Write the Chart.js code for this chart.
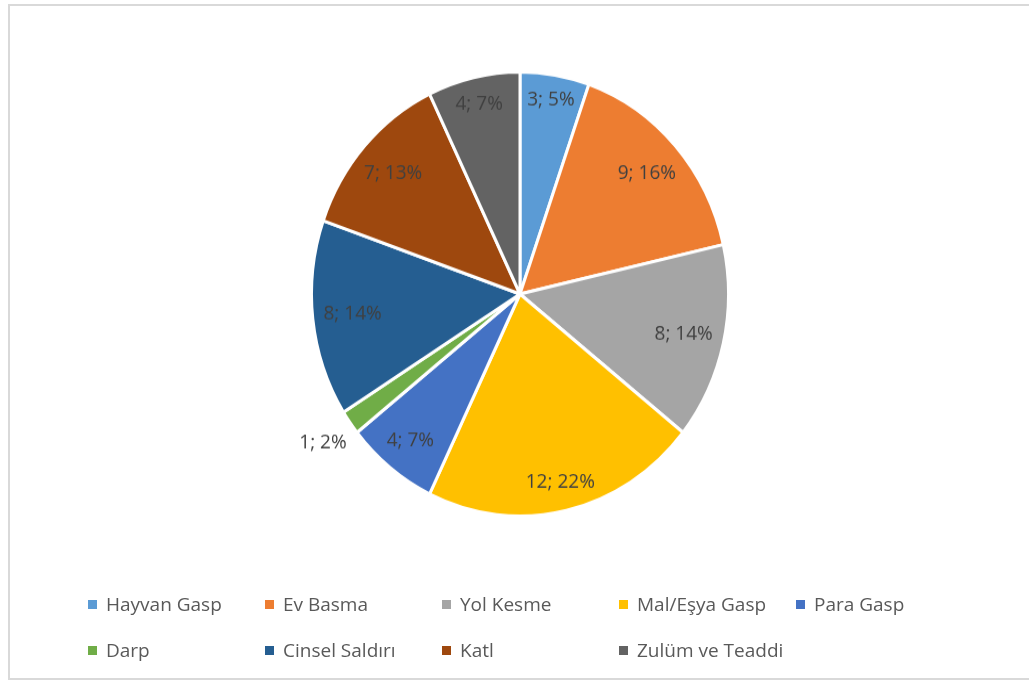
<!DOCTYPE html>
<html>
<head>
<meta charset="utf-8">
<script src="https://cdn.jsdelivr.net/npm/chart.js@4.4.0/dist/chart.umd.min.js"></script>
<style>
  html, body { margin: 0; padding: 0; background: #fff; overflow: hidden; }
  body { width: 1029px; height: 684px; position: relative; }
  #frame {
    position: absolute; left: 8px; top: 4px; width: 1030px; height: 676px;
    border: 2px solid #d9d9d9; box-sizing: border-box;
  }
  /* the reference picture is a bit taller than wide */
  #wrap {
    position: absolute; left: 220px; top: 0; width: 600px; height: 588px;
    transform: scaleY(1.065); transform-origin: 50% 294px;
  }
  #legend {
    position: absolute; left: 84px; top: 581px; width: 900px;
    display: flex; flex-wrap: wrap;
    font-family: "Open Sans", sans-serif; font-size: 19px; color: #595959;
  }
  .item { width: 177px; height: 46px; display: flex; align-items: center; }
  .box { width: 9px; height: 9px; margin: 0 9px 0 4px; }
</style>
</head>
<body>
<div id="frame"></div>
<div id="wrap"><canvas id="myChart"></canvas></div>
<div id="legend"></div>
<script>
// values
const categories = ['Hayvan Gasp', 'Ev Basma', 'Yol Kesme', 'Mal/Eşya Gasp', 'Para Gasp',
                    'Darp', 'Cinsel Saldırı', 'Katl', 'Zulüm ve Teaddi'];
const counts = [3, 9, 8, 12, 4, 1, 8, 7, 4];
const percents = [5, 16, 14, 22, 7, 2, 14, 13, 7];
const colors = ['#5B9BD5', '#ED7D31', '#A5A5A5', '#FFC000', '#4472C4',
                '#70AD47', '#255E91', '#9E480E', '#636363'];

// excel-like "best fit" data labels
const sliceLabels = {
    id: 'sliceLabels',
    afterDatasetsDraw(chart) {
        const ctx = chart.ctx;
        const arcs = chart.getDatasetMeta(0).data;
        ctx.save();
        ctx.font = '19px "Open Sans", sans-serif';
        ctx.fillStyle = '#404040';
        ctx.textAlign = 'center';
        ctx.textBaseline = 'middle';
        arcs.forEach(function(arc, i){
            const p = arc.getProps(['x', 'y', 'startAngle', 'endAngle', 'outerRadius']);
            const txt = counts[i] + '; ' + percents[i] + '%';
            const w = ctx.measureText(txt).width;
            const h = 20;
            const mid = (p.startAngle + p.endAngle) / 2;
            const dx = Math.cos(mid), dy = Math.sin(mid);
            const ext = Math.abs(dx) * w / 2 + Math.abs(dy) * h / 2;
            let d;
            if ((p.endAngle - p.startAngle) * p.outerRadius > w * 1.1) {
                d = p.outerRadius - 10 - ext;
            } else {
                d = p.outerRadius + 8 + ext;
            }
            ctx.fillText(txt, p.x + dx * d, p.y + dy * d);
        });
        ctx.restore();
    }
};

const data = {
    labels: categories,
    datasets: [{
        data: counts,
        backgroundColor: colors,
        borderColor: '#ffffff',
        borderWidth: 3
    }]
};

const config = {
    type: 'pie',
    data: data,
    options: {
        responsive: true,
        maintainAspectRatio: false,
        animation: false,
        layout: { padding: { top: 84, bottom: 84, left: 0, right: 0 } },
        plugins: {
            legend: { display: false },
            tooltip: { enabled: false }
        }
    },
    plugins: [sliceLabels]
};

const myChart = new Chart(document.getElementById('myChart'), config);

// legend in fixed excel-style columns
const legendEl = document.getElementById('legend');
categories.forEach(function(name, i){
    const item = document.createElement('div');
    item.className = 'item';
    item.innerHTML = '<span class="box" style="background:' + colors[i] + '"></span>' + name;
    legendEl.appendChild(item);
});
</script>
</body>
</html>
